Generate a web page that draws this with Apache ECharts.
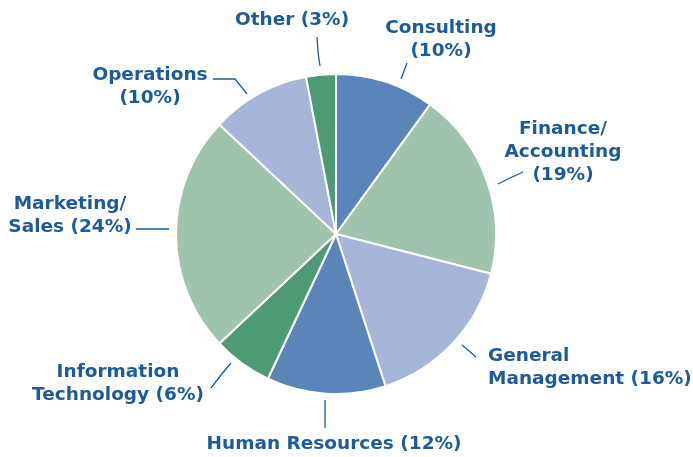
<!DOCTYPE html>
<html>
<head>
<meta charset="utf-8">
<script src="https://cdn.jsdelivr.net/npm/echarts@6/dist/echarts.min.js"></script>
<style>
  html, body { margin: 0; padding: 0; background: #ffffff; }
  #chart { width: 693px; height: 457px; }
</style>
</head>
<body>
<div id="chart"></div>
<script>
// Share of respondents by function, clockwise from twelve o'clock
const categories = ['Consulting', 'Finance/\nAccounting', 'General\nManagement', 'Human Resources',
                    'Information\nTechnology', 'Marketing/\nSales', 'Operations', 'Other'];
const shares = [10, 19, 16, 12, 6, 24, 10, 3];
// whether the percentage sits on its own line
const pctOnNewLine = [true, true, false, false, false, false, true, false];
const sliceColors = ['#5b84b8', '#9fc4ae', '#a5b6d8', '#5b84b8', '#4e9a74', '#9fc4ae', '#a5b6d8', '#4e9a74'];

// label anchor (x, y centre, alignment) and leader line for each slice
const labelSpots = [
  { x: 441, y: 40, align: 'center', line: [[401, 79], [404, 71], [407, 63]] },
  { x: 563, y: 152, align: 'center', line: [[498, 184], [510, 178], [523, 172]] },
  { x: 488, y: 368, align: 'left', line: [[462, 345], [469, 351], [476, 357]] },
  { x: 334, y: 444, align: 'center', line: [[325, 400], [325, 414], [325, 428]] },
  { x: 118, y: 384, align: 'center', line: [[231, 363], [221, 375], [211, 388]] },
  { x: 70, y: 216, align: 'center', line: [[169, 229], [152, 229], [136, 229]] },
  { x: 150, y: 87, align: 'center', line: [[247, 94], [235, 79], [213, 79]] },
  { x: 292, y: 20, align: 'center', line: [[320, 66], [318, 52], [317, 37]] }
];

const data = categories.map((name, i) => ({
  name: name,
  value: shares[i],
  itemStyle: { color: sliceColors[i] }
}));

const chart = echarts.init(document.getElementById('chart'), null, { renderer: 'canvas' });
chart.setOption({
  animation: false,
  backgroundColor: '#ffffff',
  series: [{
    type: 'pie',
    center: [336, 234],
    radius: 160,
    startAngle: 90,
    clockwise: true,
    data: data,
    itemStyle: { borderColor: '#ffffff', borderWidth: 2 },
    label: {
      show: true,
      overflow: 'none',
      formatter: p => p.name + (pctOnNewLine[p.dataIndex] ? '\n' : ' ') + '(' + p.value + '%)',
      color: '#1b5b9b',
      fontFamily: 'DejaVu Sans',
      fontWeight: 'bold',
      fontSize: 18.5,
      lineHeight: 23
    },
    labelLine: {
      show: true,
      lineStyle: { color: '#1b5b9b', width: 1.3 }
    },
    labelLayout: p => {
      const s = labelSpots[p.dataIndex];
      return {
        x: s.x,
        y: s.y,
        align: s.align,
        verticalAlign: 'middle',
        labelLinePoints: s.line
      };
    },
    emphasis: { disabled: true }
  }]
});
</script>
</body>
</html>
